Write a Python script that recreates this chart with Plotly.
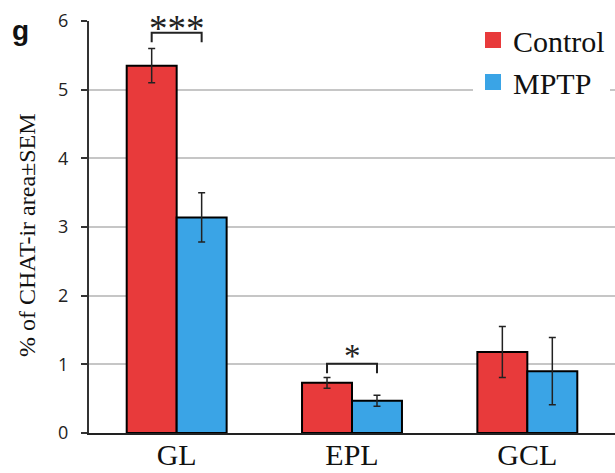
import plotly.graph_objects as go

categories = ["GL", "EPL", "GCL"]
control_vals = [5.35, 0.73, 1.18]
control_err = [0.25, 0.08, 0.37]
mptp_vals = [3.14, 0.47, 0.90]
mptp_err = [0.36, 0.08, 0.49]
y_ticks = [0, 1, 2, 3, 4, 5, 6]
# significance: (category index, bracket top, tick bottom, label)
sig_cats = [0, 1]
sig_top = [5.83, 1.01]
sig_bottom = [5.69, 0.87]
sig_labels = ["***", "*"]

RED = "#E83A3B"
BLUE = "#3AA4E6"
W, H = 615, 473
ML, MR, MT, MB = 89, 0, 21, 40
BARGAP = 0.43
half = (1 - BARGAP) / 4  # offset of each bar center from category center
PW = W - ML - MR
PH = H - MT - MB

xs = list(range(len(categories)))
fig = go.Figure()
fig.add_trace(go.Bar(
    x=xs, y=control_vals, name="Control", showlegend=False,
    marker=dict(color=RED, line=dict(color="black", width=2)),
    error_y=dict(type="data", array=control_err, color="#222", thickness=1.5, width=3.5),
))
fig.add_trace(go.Bar(
    x=xs, y=mptp_vals, name="MPTP", showlegend=False,
    marker=dict(color=BLUE, line=dict(color="black", width=2)),
    error_y=dict(type="data", array=mptp_err, color="#222", thickness=1.5, width=3.5),
))
# legend entries
for nm, col in [("Control", RED), ("MPTP", BLUE)]:
    fig.add_trace(go.Scatter(x=[None], y=[None], mode="markers", name=nm,
                             marker=dict(symbol="square", size=19, color=col)))

# significance brackets
for c, top, bot, lab in zip(sig_cats, sig_top, sig_bottom, sig_labels):
    fig.add_trace(go.Scatter(
        x=[c - half, c - half, c + half, c + half], y=[bot, top, top, bot],
        mode="lines", line=dict(color="#222", width=2), showlegend=False, hoverinfo="skip"))
    fig.add_annotation(x=c, y=top, text=lab, showarrow=False, yanchor="bottom",
                       yshift=-18 if lab == "***" else -12,
                       font=dict(family="Liberation Serif", size=37 if lab == "***" else 33, color="#222"))

fig.update_layout(
    width=W, height=H,
    margin=dict(l=ML, r=MR, t=MT, b=MB, pad=0),
    paper_bgcolor="white", plot_bgcolor="white",
    barmode="group", bargap=BARGAP, bargroupgap=0,
    showlegend=True,
    legend=dict(x=(473 - ML) / PW, y=1.017, xanchor="left", yanchor="top",
                bgcolor="white", borderwidth=0, tracegroupgap=0,
                font=dict(family="Liberation Serif", size=30, color="#111")),
    font=dict(family="Liberation Serif", color="#111"),
)
fig.update_xaxes(
    range=[-0.5, 2.5], tickmode="array", tickvals=xs, ticktext=categories,
    showline=True, linecolor="#222", linewidth=2, ticks="", showgrid=False,
    tickfont=dict(family="Liberation Serif", size=30, color="#111"), zeroline=False,
    ticklabelstandoff=-6,
)
fig.update_yaxes(
    range=[0, 6], tickmode="array", tickvals=y_ticks,
    showline=True, linecolor="#333", linewidth=2, ticks="outside", ticklen=6, tickcolor="#333",
    tickwidth=1.5, showgrid=True, gridcolor="#c6c6c6", gridwidth=1.5, zeroline=False,
    tickfont=dict(family="Open Sans", size=18, color="#222"), ticklabelstandoff=9,
)
fig.add_annotation(xref="paper", yref="paper", x=(27 - ML) / PW, y=(433 - 235) / PH,
                   xanchor="center", yanchor="middle",
                   text="% of CHAT-ir area±SEM", textangle=-90, showarrow=False,
                   font=dict(family="Liberation Serif", size=24, color="#111"))
fig.add_annotation(xref="paper", yref="paper", x=(20 - ML) / PW, y=(433 - 31) / PH,
                   xanchor="center", yanchor="middle",
                   text="<b>g</b>", showarrow=False,
                   font=dict(family="Liberation Sans", size=28, color="#111"))
fig.write_html("out.html", config={"displayModeBar": False},
               post_script="document.body.style.margin='0';document.body.style.overflow='hidden';")
